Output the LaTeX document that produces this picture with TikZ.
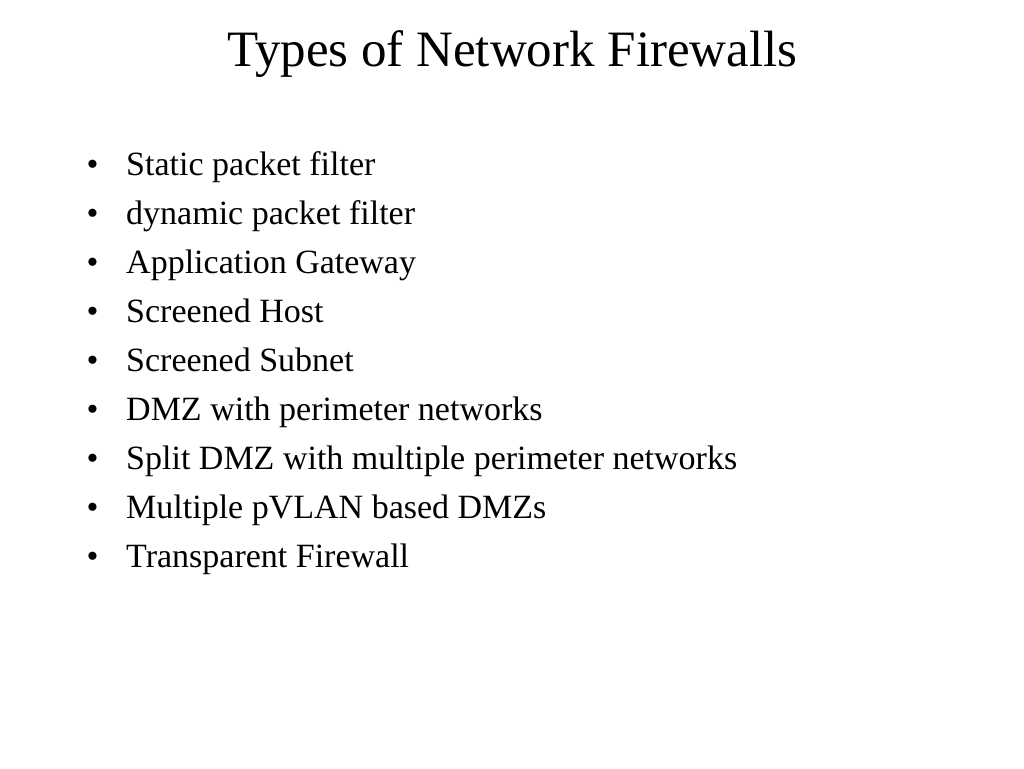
\documentclass[tikz,border=0pt]{standalone}
\usepackage{fontspec}
\setmainfont{Liberation Serif}
\begin{document}
\begin{tikzpicture}[x=1pt,y=-1pt,
  titletext/.style={anchor=base,inner sep=0pt,font=\fontsize{51}{55}\selectfont},
  itemtext/.style={anchor=base west,inner sep=0pt,font=\fontsize{34}{38}\selectfont},
  bulletmark/.style={anchor=base,inner sep=0pt,font=\fontsize{34}{38}\selectfont}]
\useasboundingbox[fill=white] (0,0) rectangle (1024,768);
\node[titletext] (title) at (512.5,66.5) {Types of Network Firewalls};
\foreach \t [count=\i] in {Static packet filter,dynamic packet filter,Application Gateway,Screened Host,Screened Subnet,DMZ with perimeter networks,Split DMZ with multiple perimeter networks,Multiple pVLAN based DMZs,Transparent Firewall}{
  \node[bulletmark] (b\i) at (92.5,{175+49.1*(\i-1)}) {\textbullet};
  \node[itemtext] (t\i) at (126,{175+49.1*(\i-1)}) {\t};
}
\end{tikzpicture}
\end{document}
